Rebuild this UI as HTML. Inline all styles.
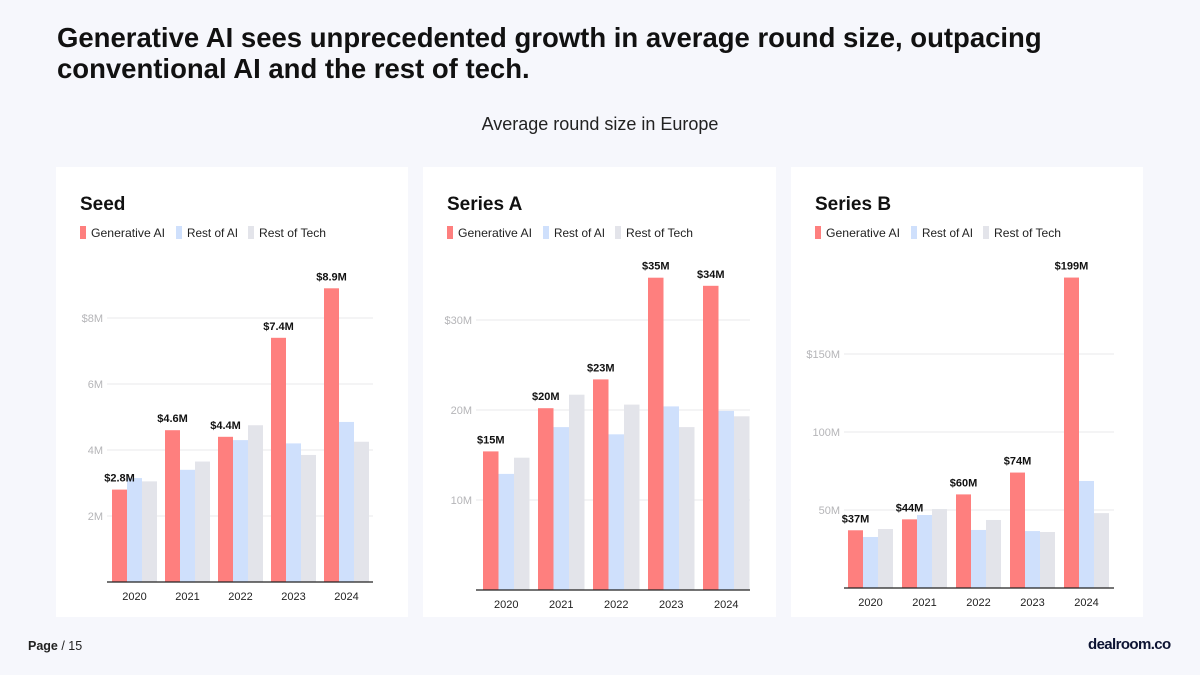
<!DOCTYPE html>
<html><head><meta charset="utf-8"><style>
body{margin:0;width:1200px;height:675px;background:#f6f7fc;font-family:"Liberation Sans",sans-serif;position:relative;overflow:hidden}
.t{position:absolute;left:57px;top:22px;font-size:27.5px;font-weight:bold;color:#111;line-height:31px;letter-spacing:0px}
.sub{position:absolute;left:0;width:1200px;top:114px;text-align:center;font-size:18px;color:#222}
.foot{position:absolute;left:28px;top:639px;font-size:12.5px;color:#222}
.logo{position:absolute;left:1088px;top:636px;font-size:15px;font-weight:900;color:#0d1433;letter-spacing:-0.6px}
svg{position:absolute;left:0;top:0}
</style></head><body>
<div class="t">Generative AI sees unprecedented growth in average round size, outpacing<br>conventional AI and the rest of tech.</div>
<div class="sub">Average round size in Europe</div>
<div class="foot"><b>Page</b> / 15</div>
<div class="logo">dealroom.co</div>
<svg id="s" width="1200" height="675"></svg>
<script>
const categories=["2020","2021","2022","2023","2024"];
const seedGen=[2.8,4.6,4.4,7.4,8.9];
const seedAI=[3.15,3.4,4.3,4.2,4.85];
const seedTech=[3.05,3.65,4.75,3.85,4.25];
const seedLabels=["$2.8M","$4.6M","$4.4M","$7.4M","$8.9M"];
const seedTicks=[2,4,6,8];
const seedTickLabels=["2M","4M","6M","$8M"];
const aGen=[15.4,20.2,23.4,34.7,33.8];
const aAI=[12.9,18.1,17.3,20.4,19.9];
const aTech=[14.7,21.7,20.6,18.1,19.3];
const aLabels=["$15M","$20M","$23M","$35M","$34M"];
const aTicks=[10,20,30];
const aTickLabels=["10M","20M","$30M"];
const bGen=[37,44,60,74,199];
const bAI=[32.7,46.8,37.2,36.5,68.6];
const bTech=[37.8,50.6,43.6,35.9,48];
const bLabels=["$37M","$44M","$60M","$74M","$199M"];
const bTicks=[50,100,150];
const bTickLabels=["50M","100M","$150M"];
const NS="http://www.w3.org/2000/svg";
const svg=document.getElementById('s');
function mk(tag,attrs,parent){const e=document.createElementNS(NS,tag);for(const k in attrs)e.setAttribute(k,attrs[k]);(parent||svg).appendChild(e);return e;}
function txt(s,attrs,parent){const e=mk('text',attrs,parent);e.textContent=s;return e;}
function panel(cfg){
  const g=mk('g',{});
  
  
  const card=mk('rect',{x:cfg.px,y:167,width:cfg.pw,height:450,fill:'#fff'},g);
  
  
  const ti=txt(cfg.title,{x:cfg.px+24,y:210,'font-size':19,'font-weight':'bold',fill:'#111'},g);
  
  
  const leg=[["Generative AI","#fe7f7e"],["Rest of AI","#cfe0fc"],["Rest of Tech","#e3e4ea"]];
  const loff=[0,96,168];
  leg.forEach((l,i)=>{
    const lx=cfg.px+24+loff[i];
    const r=mk('rect',{x:lx,y:226,width:6,height:13,fill:l[1]},g);
    
    
    const t=txt(l[0],{x:lx+11,y:237,'font-size':12,fill:'#222','textLength':[74,51,67][i],'lengthAdjust':'spacingAndGlyphs'},g);
    
    
  });
  const y=v=>cfg.base-v*cfg.scale;
  cfg.ticks.forEach((t,i)=>{
    const l=mk('line',{x1:cfg.gx0,x2:cfg.gx1,y1:y(t),y2:y(t),stroke:'#e8e8eb','stroke-width':1},g);
    
    
    const tl=txt(cfg.tickLabels[i],{x:cfg.gx0-4,y:y(t)+4,'font-size':11,fill:'#b5b5b8','text-anchor':'end'},g);
    
    
  });
  const series=[[cfg.gen,'#fe7f7e','gen-ai'],[cfg.ai,'#cfe0fc','rest-of-ai'],[cfg.tech,'#e3e4ea','rest-of-tech']];
  categories.forEach((c,i)=>{
    const x0=cfg.x0+i*cfg.step;
    series.forEach((s,j)=>{
      const b=mk('rect',{x:x0+j*cfg.bw,y:y(s[0][i]),width:cfg.bw,height:s[0][i]*cfg.scale,fill:s[1]},g);
      
      
    });
    const vl=txt(cfg.labels[i],{x:x0+cfg.bw/2,y:y(cfg.gen[i])-8,'font-size':11,'font-weight':'bold',fill:'#111','text-anchor':'middle'},g);
    
    
    const xl=txt(c,{x:x0+cfg.bw*1.5,y:cfg.base+18,'font-size':11,fill:'#222','text-anchor':'middle'},g);
    
    
  });
  const ax=mk('line',{x1:cfg.gx0,x2:cfg.gx1,y1:cfg.base,y2:cfg.base,stroke:'#222','stroke-width':1.3},g);
  
  
}
panel({name:'seed',title:'Seed',px:56,pw:352,base:582,scale:33,gx0:107,gx1:373,x0:112,step:53,bw:15,gen:seedGen,ai:seedAI,tech:seedTech,labels:seedLabels,ticks:seedTicks,tickLabels:seedTickLabels});
panel({name:'series-a',title:'Series A',px:423,pw:353,base:590,scale:9,gx0:476,gx1:750,x0:483,step:55,bw:15.5,gen:aGen,ai:aAI,tech:aTech,labels:aLabels,ticks:aTicks,tickLabels:aTickLabels});
panel({name:'series-b',title:'Series B',px:791,pw:352,base:588,scale:1.56,gx0:844,gx1:1114,x0:848,step:54,bw:15,gen:bGen,ai:bAI,tech:bTech,labels:bLabels,ticks:bTicks,tickLabels:bTickLabels});
</script>
</body></html>
